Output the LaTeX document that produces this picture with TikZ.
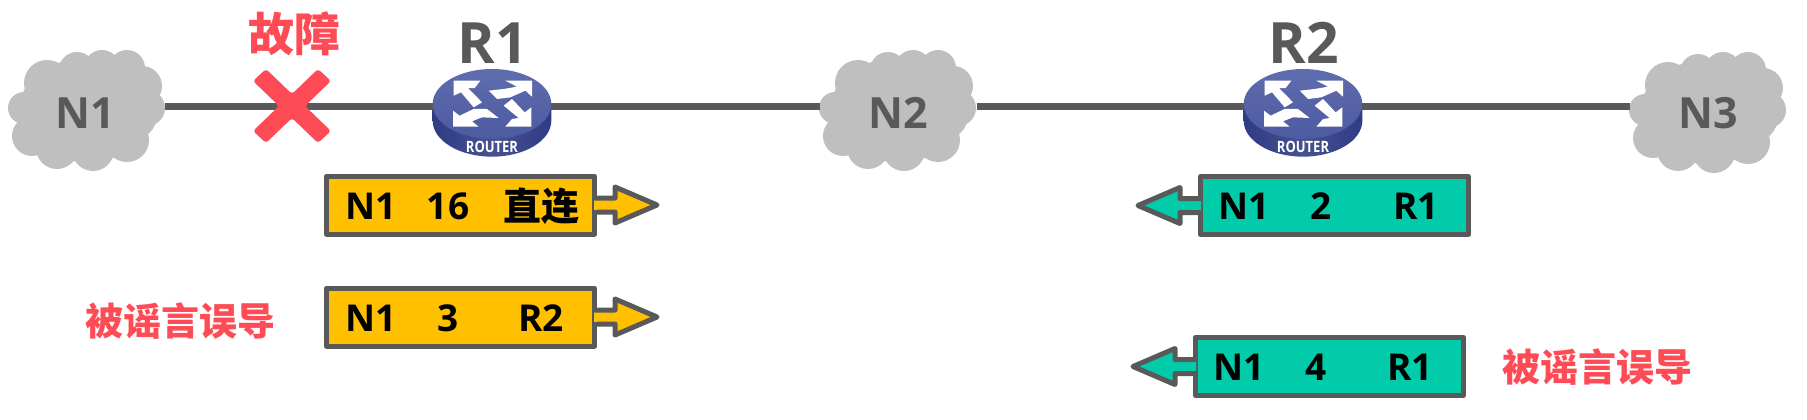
\documentclass[tikz,border=0pt]{standalone}
\usepackage{fontspec}
\setmainfont{Open Sans}
\newfontfamily\cjk{Noto Sans CJK SC}
\usetikzlibrary{calc,shapes.geometric}
\definecolor{lineg}{HTML}{595959}
\definecolor{cloudg}{HTML}{BFBFBF}
\definecolor{gold}{HTML}{FFC000}
\definecolor{teal2}{HTML}{02CBA9}
\definecolor{alarm}{HTML}{FF4B55}
\definecolor{rtop}{HTML}{5F6CAE}
\definecolor{rtop2}{HTML}{4C5AA0}
\definecolor{rside}{HTML}{2F3B85}
\definecolor{rside2}{HTML}{46528F}
\newcommand{\fs}[1]{\fontsize{#1}{#1}\selectfont}
\tikzset{
  link/.style={draw=lineg,line width=7pt},
  holder/.style={inner sep=0pt,outer sep=0pt,minimum height=60pt},
  netlabel/.style={holder,text=lineg,font=\fs{43}\bfseries},
  rtitle/.style={inner sep=0pt,text=lineg,font=\fs{57}\bfseries},
  routertag/.style={inner sep=0pt,text=white,yscale=1.2,font=\fs{13}\bfseries},
  entry/.style={draw=lineg,line width=5pt,line join=round,inner sep=0pt,minimum width=268pt,minimum height=58pt},
  goldbox/.style={entry,fill=gold},
  tealbox/.style={entry,fill=teal2},
  cell/.style={inner sep=0pt,text=black,font=\fs{37}\bfseries},
  cjkcell/.style={inner sep=0pt,text=black,font=\cjk\fs{38}\bfseries},
  note/.style={inner sep=0pt,text=alarm,font=\cjk\fs{38}\bfseries},
  arrowshape/.style={draw=lineg,line width=5pt,line join=round},
  netcloud/.pic={
    \fill[cloudg] (0,0) ellipse[x radius=68,y radius=52];
    \foreach \x/\y/\r in {-63/-2/16,-40/-27/23,-10/-40/18,15/-42/18,40/-42/18,55/-24/20,60/-2/18,40/30/22,6/40/21,-30/38/21,-55/26/20,-45/0/25,45/5/25}
      \fill[cloudg] (\x,\y) circle[radius=\r];
  },
  routerpic/.pic={
    \begin{scope}[scale=0.3333]
      \shade[left color=rside,right color=rside,middle color=rside2] (-178,0) -- (-178,50) arc[start angle=180,end angle=0,x radius=178,y radius=108] -- (178,0) -- cycle;
      \shade[top color=rtop,bottom color=rtop2] (0,0) ellipse[x radius=178,y radius=105];
      \fill[white] (-115,-70) -- (-35,-70) -- (-52,-48) -- (-72,-48) -- (-30,-5) -- (-55,10) -- (-93,-35) -- (-115,-25) -- cycle;
      \fill[white] (120,-70) -- (120,-22) -- (100,-40) -- (55,-20) -- (15,-15) -- (-10,-40) -- (35,-45) -- (75,-52) -- (40,-70) -- cycle;
      \fill[white] (118,68) -- (40,68) -- (60,45) -- (80,42) -- (35,5) -- (60,-15) -- (98,25) -- (118,10) -- cycle;
      \fill[white] (-117,68) -- (-117,20) -- (-97,35) -- (-55,15) -- (-15,15) -- (20,42) -- (-30,40) -- (-60,52) -- (-40,68) -- cycle;
    \end{scope}
  },
}
\begin{document}
\begin{tikzpicture}[x=1pt,y=-1pt]
\useasboundingbox[fill=white] (0,0) rectangle (1807,420);
% clouds
\pic at (87,110) {netcloud};
\pic at (898,110) {netcloud};
\pic at (1708,112) {netcloud};
\node[netlabel,minimum width=160pt] (n1) at (85,106) {\raisebox{-23pt}[0pt][0pt]{N1}};
\node[netlabel,minimum width=157pt] (n2) at (898,106) {\raisebox{-23pt}[0pt][0pt]{N2}};
\node[netlabel,minimum width=156pt] (n3) at (1708,106) {\raisebox{-23pt}[0pt][0pt]{N3}};
% routers
\pic at (492,104) {routerpic};
\pic at (1303,104) {routerpic};
\node[holder,minimum width=118pt] (r1) at (492,106) {};
\node[holder,minimum width=118pt] (r2) at (1303,106) {};
\node[routertag] (rl1) at (492,147) {ROUTER};
\node[routertag] (rl2) at (1303,147) {ROUTER};
\node[rtitle] (t1) at (492.5,43) {R1};
\node[rtitle] (t2) at (1303.5,43) {R2};
% links
\draw[link] (n1) -- (r1);
\draw[link] (r1) -- (n2);
\draw[link] (n2) -- (r2);
\draw[link] (r2) -- (n3);
% failure mark
\fill[alarm,rounded corners=3pt,shift={(292,106)}] (-26,-37) -- (0,-12) -- (26,-37) -- (39,-25) -- (13,0) -- (39,25) -- (26,37) -- (0,12) -- (-26,37) -- (-39,25) -- (-13,0) -- (-39,-25) -- cycle;
\node[note,font=\cjk\fs{46}\bfseries] (fault) at (294,34) {故障};
% entries
\node[goldbox] (b1) at (460.5,205) {};
\node[goldbox] (b2) at (460.5,317) {};
\node[tealbox] (b3) at (1334.5,205.5) {};
\node[tealbox] (b4) at (1329.5,366.5) {};
\foreach \b in {b1,b2}{
  \draw[arrowshape,fill=gold] ($(\b.east)+(-3,-7)$) -- ++(21,0) -- ++(0,-11) -- ++(42,18) -- ++(-42,18) -- ++(0,-11) -- ++(-21,0);
  \fill[gold] ($(\b.east)+(-2.6,-4.5)$) rectangle ++(3,9);
}
\foreach \b in {b3,b4}{
  \draw[arrowshape,fill=teal2] ($(\b.west)+(3,-7)$) -- ++(-21,0) -- ++(0,-11) -- ++(-42,18) -- ++(42,18) -- ++(0,-11) -- ++(21,0);
  \fill[teal2] ($(\b.west)+(-0.4,-4.5)$) rectangle ++(3,9);
}
\node[cell] (c11) at (371,206) {N1};
\node[cell] (c12) at (448,206) {16};
\node[cjkcell] (c13) at (541,206) {直连};
\node[cell] (c21) at (371,318) {N1};
\node[cell] (c22) at (448,318) {3};
\node[cell] (c23) at (541,318) {R2};
\node[cell] (c31) at (1244,206) {N1};
\node[cell] (c32) at (1321,206) {2};
\node[cell] (c33) at (1416,206) {R1};
\node[cell] (c41) at (1239,367) {N1};
\node[cell] (c42) at (1316,367) {4};
\node[cell] (c43) at (1410,367) {R1};
\node[note] (m1) at (180,321) {被谣言误导};
\node[note] (m2) at (1597,367) {被谣言误导};
\end{tikzpicture}
\end{document}
